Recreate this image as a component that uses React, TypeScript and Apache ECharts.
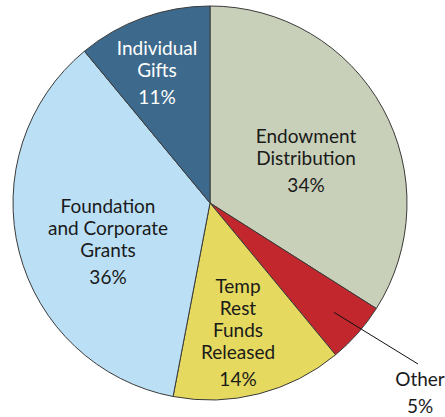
import React, { useEffect, useRef } from "react";
import * as echarts from "echarts";

const categories = [
  "Endowment\nDistribution",
  "Other",
  "Temp\nRest\nFunds\nReleased",
  "Foundation\nand Corporate\nGrants",
  "Individual\nGifts",
];
const values = [34, 5, 14, 36, 11];
const colors = ["#C9D0B9", "#C1272D", "#E5D95F", "#BBE0F6", "#3D6A8C"];
const textColors = ["#1a1a1a", "#1a1a1a", "#1a1a1a", "#1a1a1a", "#ffffff"];
// label block centres (layout only)
const labelPos: [number, number][] = [
  [306, 162],
  [420, 394],
  [238, 334],
  [108, 243],
  [157, 74],
];

const CX = 210;
const CY = 203;
const R = 197;
const FONT = "Lato, 'Open Sans', sans-serif";

export default function App() {
  const ref = useRef<HTMLDivElement>(null);
  useEffect(() => {
    if (!ref.current) return;
    const chart = echarts.init(ref.current, undefined, { renderer: "svg" });
    const total = values.reduce((a, b) => a + b, 0);
    const midFrac = (values[0] + values[1] / 2) / total;
    const ang = midFrac * Math.PI * 2;
    const sx = CX + Math.sin(ang) * R * 0.84;
    const sy = CY - Math.cos(ang) * R * 0.84;

    const data = categories.map((name, i) => {
      const lines = name.split("\n");
      const c = textColors[i];
      return {
        name,
        value: values[i],
        itemStyle: { color: colors[i] },
        label: {
          show: true,
          position: "inside",
          overflow: "none",
          formatter: () =>
            lines.map((l) => `{n|${l}}`).join("\n") + `\n{p|${values[i]}%}`,
          rich: {
            n: { fontFamily: FONT, fontSize: 19, lineHeight: 22, color: c, align: "center" },
            p: { fontFamily: FONT, fontSize: 19, lineHeight: 32, color: c, align: "center" },
          },
        },
        labelLine: { show: false },
      };
    });

    chart.setOption({
      animation: false,
      series: [
        {
          type: "pie",
          center: [CX, CY],
          radius: R,
          startAngle: 90,
          clockwise: true,
          silent: true,
          itemStyle: { borderColor: "#3a3a3a", borderWidth: 1 },
          data,
          labelLayout: (params: any) => {
            const i = params.dataIndex;
            return {
              x: labelPos[i][0],
              y: labelPos[i][1],
              align: "center",
              verticalAlign: "middle",
            };
          },
        },
      ],
      graphic: [
        {
          type: "line",
          shape: { x1: sx, y1: sy, x2: 418, y2: 364 },
          style: { stroke: "#111", lineWidth: 1 },
          z: 100,
        },
      ],
    });
    return () => chart.dispose();
  }, []);
  return (
    <div
      ref={ref}
      style={{ position: "absolute", left: 0, top: 0, width: 445, height: 417, background: "#fff" }}
    />
  );
}
